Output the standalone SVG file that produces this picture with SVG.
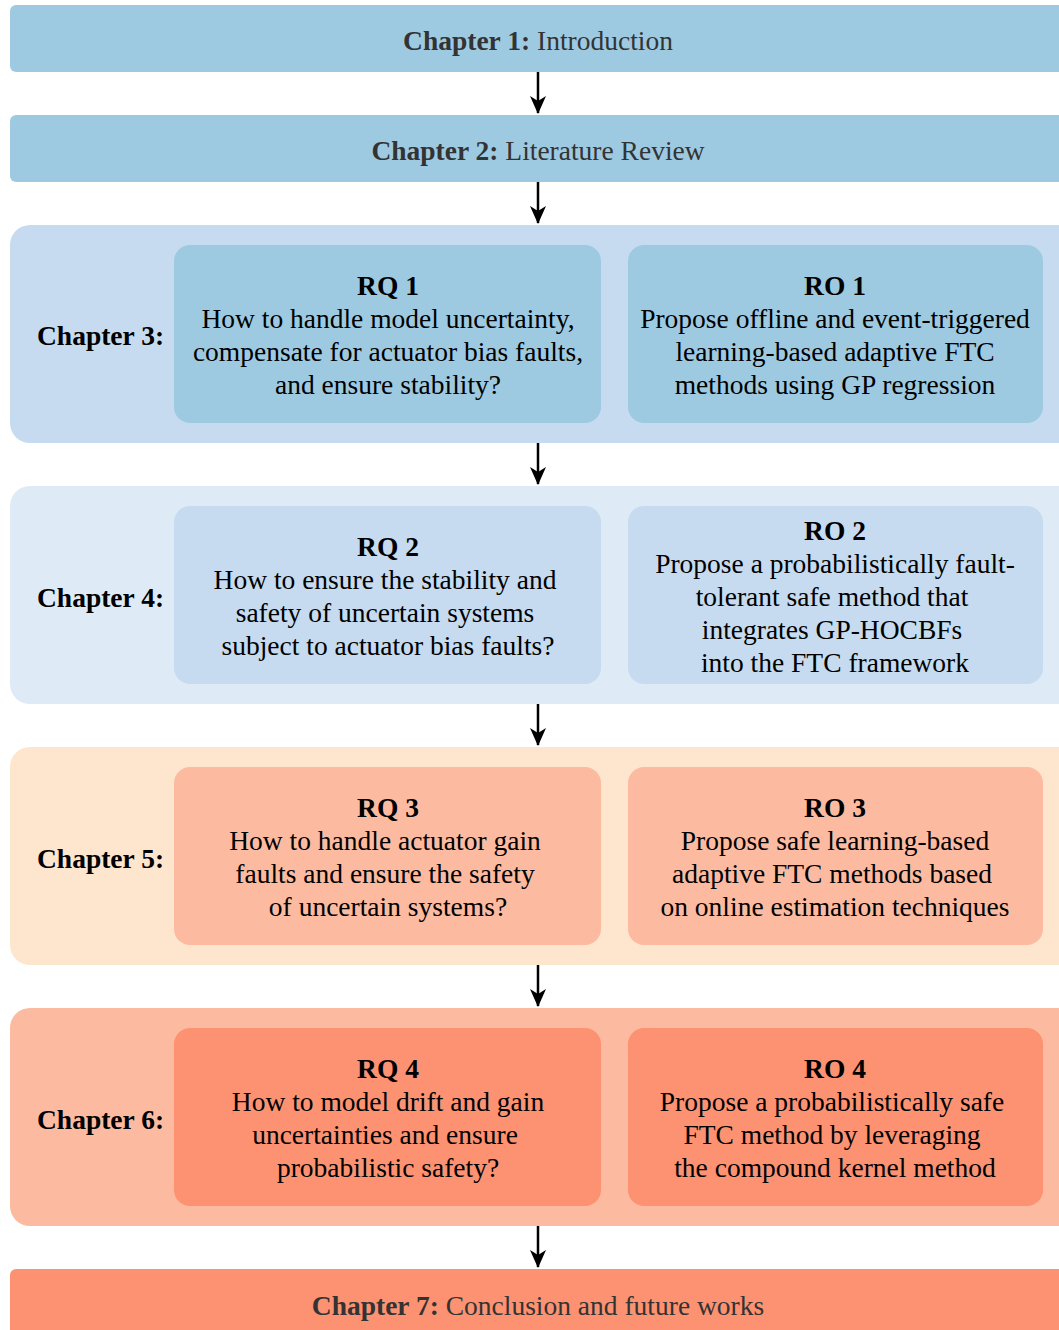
<svg xmlns="http://www.w3.org/2000/svg" width="1059" height="1330" viewBox="0 0 1059 1330">
  <defs>
    <style>
      text { font-family: "Liberation Serif", "Times New Roman", serif; font-size: 27.5px; fill: #000; }
      .mid { text-anchor: middle; }
      .b { font-weight: bold; }
      .title { fill: #333; }
      .conn { stroke: #000; stroke-width: 2.5; fill: none; }
    </style>
    <marker id="arr" viewBox="0 0 18 16" refX="17" refY="8" markerWidth="18" markerHeight="16" markerUnits="userSpaceOnUse" orient="auto">
      <path d="M0,0 L18,8 L0,16 L5,8 Z" fill="#000"/>
    </marker>
  </defs>

  <rect width="1059" height="1330" fill="#fff"/>

  <!-- Chapter 1 -->
  <g id="ch1">
    <rect x="10" y="5" width="1070" height="67" rx="6" fill="#9ecae1"/>
    <text class="mid title" x="538" y="50"><tspan class="b">Chapter 1:</tspan> Introduction</text>
  </g>

  <!-- Chapter 2 -->
  <g id="ch2">
    <rect x="10" y="115" width="1070" height="67" rx="6" fill="#9ecae1"/>
    <text class="mid title" x="538" y="160"><tspan class="b">Chapter 2:</tspan> Literature Review</text>
  </g>

  <!-- Chapter 3 -->
  <g id="ch3">
    <rect x="10" y="225" width="1070" height="218" rx="20" fill="#c6dbef"/>
    <text class="b" x="37" y="345">Chapter 3:</text>
    <g id="rq1">
      <rect x="174" y="245" width="427" height="178" rx="16" fill="#9ecae1"/>
      <text class="mid" x="388" y="295"><tspan class="b">RQ 1</tspan><tspan x="388" dy="33">How to handle model uncertainty,</tspan><tspan x="388" dy="33">compensate for actuator bias faults,</tspan><tspan x="388" dy="33">and ensure stability?</tspan></text>
    </g>
    <g id="ro1">
      <rect x="628" y="245" width="415" height="178" rx="16" fill="#9ecae1"/>
      <text class="mid" x="835" y="295"><tspan class="b">RO 1</tspan><tspan x="835" dy="33">Propose offline and event-triggered</tspan><tspan x="835" dy="33">learning-based adaptive FTC</tspan><tspan x="835" dy="33">methods using GP regression</tspan></text>
    </g>
  </g>

  <!-- Chapter 4 -->
  <g id="ch4">
    <rect x="10" y="486" width="1070" height="218" rx="20" fill="#deebf7"/>
    <text class="b" x="37" y="607">Chapter 4:</text>
    <g id="rq2">
      <rect x="174" y="506" width="427" height="178" rx="16" fill="#c6dbef"/>
      <text class="mid" x="388" y="556"><tspan class="b">RQ 2</tspan><tspan x="385" dy="33">How to ensure the stability and</tspan><tspan x="385" dy="33">safety of uncertain systems</tspan><tspan x="388" dy="33">subject to actuator bias faults?</tspan></text>
    </g>
    <g id="ro2">
      <rect x="628" y="506" width="415" height="178" rx="16" fill="#c6dbef"/>
      <text class="mid" x="835" y="540"><tspan class="b">RO 2</tspan><tspan x="835" dy="33">Propose a probabilistically fault-</tspan><tspan x="832" dy="33">tolerant safe method that</tspan><tspan x="832" dy="33">integrates GP-HOCBFs</tspan><tspan x="835" dy="33">into the FTC framework</tspan></text>
    </g>
  </g>

  <!-- Chapter 5 -->
  <g id="ch5">
    <rect x="10" y="747" width="1070" height="218" rx="20" fill="#fee6ce"/>
    <text class="b" x="37" y="868">Chapter 5:</text>
    <g id="rq3">
      <rect x="174" y="767" width="427" height="178" rx="16" fill="#fcbba1"/>
      <text class="mid" x="388" y="817"><tspan class="b">RQ 3</tspan><tspan x="385" dy="33">How to handle actuator gain</tspan><tspan x="385" dy="33">faults and ensure the safety</tspan><tspan x="388" dy="33">of uncertain systems?</tspan></text>
    </g>
    <g id="ro3">
      <rect x="628" y="767" width="415" height="178" rx="16" fill="#fcbba1"/>
      <text class="mid" x="835" y="817"><tspan class="b">RO 3</tspan><tspan x="835" dy="33">Propose safe learning-based</tspan><tspan x="832" dy="33">adaptive FTC methods based</tspan><tspan x="835" dy="33">on online estimation techniques</tspan></text>
    </g>
  </g>

  <!-- Chapter 6 -->
  <g id="ch6">
    <rect x="10" y="1008" width="1070" height="218" rx="20" fill="#fcbba1"/>
    <text class="b" x="37" y="1129">Chapter 6:</text>
    <g id="rq4">
      <rect x="174" y="1028" width="427" height="178" rx="16" fill="#fc9272"/>
      <text class="mid" x="388" y="1078"><tspan class="b">RQ 4</tspan><tspan x="388" dy="33">How to model drift and gain</tspan><tspan x="385" dy="33">uncertainties and ensure</tspan><tspan x="388" dy="33">probabilistic safety?</tspan></text>
    </g>
    <g id="ro4">
      <rect x="628" y="1028" width="415" height="178" rx="16" fill="#fc9272"/>
      <text class="mid" x="835" y="1078"><tspan class="b">RO 4</tspan><tspan x="832" dy="33">Propose a probabilistically safe</tspan><tspan x="832" dy="33">FTC method by leveraging</tspan><tspan x="835" dy="33">the compound kernel method</tspan></text>
    </g>
  </g>

  <!-- Chapter 7 -->
  <g id="ch7">
    <rect x="10" y="1269" width="1070" height="80" rx="6" fill="#fc9272"/>
    <text class="mid title" x="538" y="1315"><tspan class="b">Chapter 7:</tspan> Conclusion and future works</text>
  </g>

  <!-- Connectors between chapters -->
  <g id="connectors">
    <line class="conn" x1="538" y1="72" x2="538" y2="113" marker-end="url(#arr)"/>
    <line class="conn" x1="538" y1="182" x2="538" y2="223" marker-end="url(#arr)"/>
    <line class="conn" x1="538" y1="443" x2="538" y2="484" marker-end="url(#arr)"/>
    <line class="conn" x1="538" y1="704" x2="538" y2="745" marker-end="url(#arr)"/>
    <line class="conn" x1="538" y1="965" x2="538" y2="1006" marker-end="url(#arr)"/>
    <line class="conn" x1="538" y1="1226" x2="538" y2="1267" marker-end="url(#arr)"/>
  </g>
</svg>
